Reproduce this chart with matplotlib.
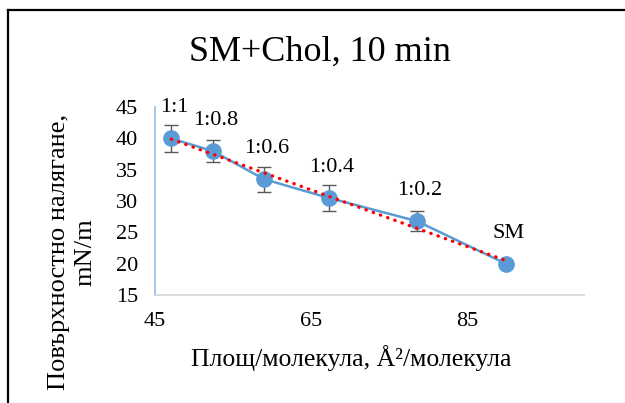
import matplotlib

matplotlib.use("Agg")

import matplotlib.pyplot as plt
import numpy as np
from matplotlib.lines import Line2D

plt.rcParams["font.family"] = ["Liberation Serif", "DejaVu Serif"]

# data
area = [47.1, 52.4, 59.0, 67.3, 78.6, 90.0]
pressure = [40.0, 38.0, 33.5, 30.5, 26.8, 20.0]
pressure_err = [2.2, 1.75, 2.0, 2.1, 1.6, 0.0]
ratio_labels = ["1:1", "1:0.8", "1:0.6", "1:0.4", "1:0.2", "SM"]

x_ticks = [45, 65, 85]
y_ticks = [15, 20, 25, 30, 35, 40, 45]

LINE_BLUE = "#5b9bd5"

fig = plt.figure(figsize=(6.25, 4.03), dpi=100)
ax = fig.add_axes([0.248, 0.268, 0.686, 0.466])

ax.errorbar(
    area,
    pressure,
    yerr=pressure_err,
    fmt="none",
    ecolor="#595959",
    elinewidth=1.0,
    capsize=5,
    capthick=1.0,
    zorder=2,
)
ax.plot(
    area,
    pressure,
    color=LINE_BLUE,
    linewidth=1.8,
    marker="o",
    markersize=11,
    markerfacecolor=LINE_BLUE,
    markeredgecolor=LINE_BLUE,
    zorder=3,
)

# linear trendline, as the spreadsheet draws it
slope, intercept = np.polyfit(area, pressure, 1)
trend_x = np.array([area[0], area[-1]])
ax.plot(
    trend_x,
    slope * trend_x + intercept,
    color="red",
    linewidth=2.4,
    linestyle=(0, (0.1, 2.2)),
    dash_capstyle="round",
    zorder=4,
)

for x, y, label in zip(area, pressure, ratio_labels):
    ax.annotate(
        label,
        (x, y),
        xytext=(2, 22),
        textcoords="offset points",
        ha="center",
        va="center",
        fontsize=16,
    )

ax.set_xlim(45, 100)
ax.set_ylim(15, 45)
ax.set_xticks(x_ticks)
ax.set_yticks(y_ticks)
ax.tick_params(length=0, labelsize=16, pad=12)
for side in ("top", "right"):
    ax.spines[side].set_visible(False)
ax.spines["left"].set_color("#9dc3e6")
ax.spines["left"].set_linewidth(1.3)
ax.spines["bottom"].set_color("#d9d9d9")
ax.spines["bottom"].set_linewidth(1.3)
ax.patch.set_alpha(0)

fig.text(320 / 625, 1 - 52 / 403, "SM+Chol, 10 min", ha="center", va="center", fontsize=26)
fig.text(351 / 625, 1 - 358 / 403, "Площ/молекула, Å²/молекула", ha="center", va="center", fontsize=18.5)
fig.text(
    72 / 625,
    1 - 252 / 403,
    "Повърхностно налягане,\nmN/m",
    ha="center",
    va="center",
    rotation=90,
    fontsize=19,
    linespacing=1.25,
)

# outer frame (only top and left edges fall inside the picture)
fig.add_artist(Line2D([8 / 625, 1.0], [1 - 10 / 403, 1 - 10 / 403], color="black", linewidth=1.6, transform=fig.transFigure))
fig.add_artist(Line2D([8 / 625, 8 / 625], [1 - 10 / 403, 0.0], color="black", linewidth=1.6, transform=fig.transFigure))

fig.savefig("out.png", dpi=100)
